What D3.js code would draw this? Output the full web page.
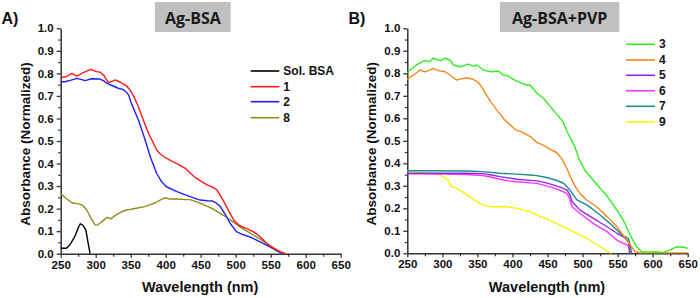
<!DOCTYPE html>
<html><head><meta charset="utf-8">
<script src="https://cdn.jsdelivr.net/npm/d3@7"></script>
<style>body{margin:0;background:#fff}svg{display:block}</style>
</head><body>
<svg id="c" width="700" height="298"></svg>
<script>
// ---- data (wavelength nm, normalized absorbance) ----
const solBSA = [[250,0.024],[258,0.024],[263,0.039],[270,0.075],[275,0.115],[278,0.133],[282,0.125],[286,0.105],[289,0.05],[292,0]];
const s1 = [[250,0.781],[258,0.785],[266,0.80],[273,0.788],[280,0.80],[287,0.81],[293,0.818],[301,0.808],[306,0.806],[312,0.79],[318,0.759],[324,0.766],[328,0.771],[333,0.764],[338,0.756],[344,0.745],[349,0.726],[354,0.70],[359,0.667],[368,0.593],[376,0.53],[381,0.50],[387,0.46],[393,0.44],[399,0.428],[407,0.413],[416,0.40],[428,0.379],[436,0.355],[444,0.334],[459,0.305],[467,0.295],[473,0.283],[482,0.238],[490,0.19],[497,0.15],[506,0.123],[515,0.112],[525,0.098],[535,0.075],[544,0.046],[555,0.022],[563,0.009],[572,0]];
const s2 = [[250,0.763],[256,0.763],[265,0.77],[273,0.778],[280,0.772],[285,0.768],[294,0.776],[306,0.775],[311,0.768],[316,0.756],[325,0.744],[332,0.734],[339,0.729],[344,0.716],[347,0.704],[351,0.667],[356,0.63],[361,0.593],[368,0.53],[372,0.49],[378,0.43],[387,0.357],[394,0.32],[401,0.297],[416,0.275],[435,0.253],[449,0.238],[460,0.235],[466,0.234],[472,0.225],[478,0.209],[485,0.175],[492,0.135],[501,0.098],[510,0.085],[520,0.075],[530,0.06],[539,0.046],[549,0.03],[559,0.012],[567,0]];
const s8 = [[250,0.266],[258,0.245],[266,0.226],[272,0.222],[278,0.22],[283,0.21],[287,0.194],[293,0.16],[299,0.128],[302,0.127],[306,0.135],[311,0.148],[316,0.161],[322,0.155],[328,0.17],[337,0.186],[345,0.195],[351,0.197],[360,0.203],[370,0.209],[378,0.218],[385,0.226],[392,0.238],[399,0.248],[405,0.243],[416,0.243],[428,0.24],[435,0.24],[449,0.224],[458,0.212],[466,0.201],[478,0.179],[485,0.166],[492,0.15],[501,0.13],[512,0.108],[525,0.083],[535,0.065],[544,0.046],[553,0.028],[563,0.009],[570,0]];

const s3 = [[250,0.803],[256,0.82],[263,0.837],[270,0.85],[275,0.856],[282,0.852],[287,0.867],[292,0.862],[297,0.856],[304,0.867],[311,0.859],[316,0.837],[325,0.829],[331,0.834],[337,0.841],[344,0.832],[349,0.837],[354,0.826],[358,0.815],[364,0.81],[370,0.807],[380,0.81],[387,0.792],[394,0.788],[401,0.773],[413,0.756],[420,0.748],[425,0.748],[435,0.711],[444,0.69],[454,0.652],[465,0.612],[472,0.585],[478,0.54],[489,0.474],[495,0.42],[503,0.37],[515,0.326],[525,0.289],[534,0.259],[549,0.192],[558,0.148],[568,0.081],[577,0.029],[584,0.007],[591,0.005],[605,0.007],[615,0.003],[625,0.015],[634,0.029],[644,0.027],[650,0.022]];
const s4 = [[250,0.773],[255,0.785],[261,0.797],[268,0.815],[275,0.806],[281,0.813],[287,0.822],[294,0.812],[304,0.807],[309,0.797],[320,0.77],[327,0.775],[335,0.78],[344,0.773],[351,0.76],[356,0.74],[363,0.703],[370,0.67],[378,0.635],[389,0.592],[397,0.57],[404,0.55],[413,0.54],[425,0.52],[435,0.492],[444,0.481],[454,0.462],[463,0.448],[470,0.422],[478,0.375],[484,0.33],[490,0.295],[496,0.267],[506,0.237],[520,0.207],[535,0.163],[549,0.118],[558,0.081],[568,0.037],[575,0.007],[582,0.002],[650,0.002]];
const s5 = [[250,0.356],[300,0.356],[335,0.356],[358,0.354],[370,0.348],[382,0.341],[394,0.335],[406,0.329],[425,0.324],[435,0.322],[447,0.314],[458,0.304],[468,0.294],[478,0.281],[482,0.26],[485,0.23],[496,0.193],[505,0.175],[515,0.156],[525,0.137],[535,0.118],[549,0.089],[558,0.074],[563,0.06],[566,0.052],[567,0]];
const s6 = [[250,0.353],[300,0.352],[335,0.35],[358,0.346],[370,0.338],[382,0.329],[394,0.322],[406,0.318],[425,0.313],[435,0.311],[447,0.301],[458,0.292],[468,0.28],[478,0.265],[482,0.24],[485,0.207],[496,0.178],[505,0.157],[515,0.133],[525,0.114],[535,0.096],[549,0.059],[558,0.044],[564,0.037],[566,0.03],[568,0]];
const s7 = [[250,0.367],[287,0.367],[335,0.366],[358,0.363],[382,0.356],[406,0.352],[425,0.348],[435,0.345],[447,0.338],[458,0.329],[468,0.318],[473,0.311],[482,0.281],[492,0.237],[506,0.215],[515,0.195],[525,0.17],[539,0.133],[549,0.104],[558,0.077],[565,0.067],[568,0.037],[570,0]];
const s9 = [[250,0.367],[260,0.362],[268,0.358],[287,0.356],[295,0.35],[301,0.341],[308,0.326],[313,0.296],[320,0.29],[325,0.281],[339,0.252],[350,0.228],[354,0.222],[362,0.212],[370,0.207],[392,0.207],[400,0.203],[406,0.2],[425,0.185],[435,0.17],[447,0.155],[458,0.14],[470,0.122],[482,0.104],[494,0.085],[506,0.067],[515,0.048],[525,0.029],[533,0.014],[539,0.003],[541,0]];

const yTicks = [0,0.1,0.2,0.3,0.4,0.5,0.6,0.7,0.8,0.9,1.0];
const xTicks = [250,300,350,400,450,500,550,600,650];

const leftSeries = [
  {name:"Sol. BSA", data:solBSA, color:"#000000"},
  {name:"1", data:s1, color:"#ff1a1a"},
  {name:"2", data:s2, color:"#2020ff"},
  {name:"8", data:s8, color:"#8c8c1c"}
];
const rightSeries = [
  {name:"3", data:s3, color:"#33ee22"},
  {name:"4", data:s4, color:"#f7861c"},
  {name:"5", data:s5, color:"#8a2be2"},
  {name:"6", data:s6, color:"#ff33ff"},
  {name:"7", data:s7, color:"#1f8c8c"},
  {name:"9", data:s9, color:"#f5f500"}
];
// draw order (bottom to top)
const rightDrawOrder = ["9","6","5","7","4","3"];
const leftDrawOrder = ["Sol. BSA","8","2","1"];

const svg = d3.select("#c");
const AX = "Liberation Sans, Arial, sans-serif";

function panel(opt){
  const x = d3.scaleLinear().domain([250,650]).range([opt.x0,opt.x1]);
  const y = d3.scaleLinear().domain([0,1]).range([opt.y0,opt.y1]);
  const g = svg.append("g");
  // minor ticks
  const minorY = d3.range(0.05,1,0.1);
  const minorX = d3.range(275,650,50);
  g.append("g").attr("transform",`translate(${opt.x0},0)`)
    .call(d3.axisLeft(y).tickValues(minorY).tickSize(2.5).tickFormat(""))
    .call(s=>s.select(".domain").remove())
    .call(s=>s.selectAll("line").attr("stroke","#333").attr("stroke-width",1.2));
  g.append("g").attr("transform",`translate(0,${opt.y0})`)
    .call(d3.axisBottom(x).tickValues(minorX).tickSize(3).tickFormat(""))
    .call(s=>s.select(".domain").remove())
    .call(s=>s.selectAll("line").attr("stroke","#333").attr("stroke-width",1.2));
  // major axes
  const ya = g.append("g").attr("transform",`translate(${opt.x0},0)`)
    .call(d3.axisLeft(y).tickValues(yTicks).tickSize(4).tickSizeOuter(0).tickPadding(3).tickFormat(d3.format(".1f")));
  const xa = g.append("g").attr("transform",`translate(0,${opt.y0})`)
    .call(d3.axisBottom(x).tickValues(xTicks).tickSize(4).tickSizeOuter(0).tickPadding(3));
  [ya,xa].forEach(a=>{
    a.select(".domain").attr("stroke","#333").attr("stroke-width",1.5);
    a.selectAll("line").attr("stroke","#333").attr("stroke-width",1.3);
    a.selectAll("text").attr("font-family",AX).attr("font-weight","bold").attr("font-size",11.5).attr("fill","#111");
  });
  // lines
  const line = d3.line().x(d=>x(d[0])).y(d=>y(d[1]));
  const byName = {};
  opt.series.forEach(s=>byName[s.name]=s);
  opt.order.forEach(n=>{
    const s = byName[n];
    g.append("path").datum(s.data).attr("d",line).attr("fill","none")
      .attr("stroke",s.color).attr("stroke-width",1.4).attr("stroke-linejoin","round");
  });
  // legend
  opt.series.forEach((s,i)=>{
    const ly = opt.legY[i];
    g.append("line").attr("x1",opt.legX0).attr("x2",opt.legX1).attr("y1",ly).attr("y2",ly)
      .attr("stroke",s.color).attr("stroke-width",1.6);
    g.append("text").attr("x",opt.legX1+4).attr("y",ly+4).text(s.name)
      .attr("font-family",AX).attr("font-weight","bold").attr("font-size",12).attr("fill","#111");
  });
  // axis titles
  g.append("text").attr("transform",`translate(${opt.ylabX},${(opt.y0+opt.y1)/2 + 3}) rotate(-90)`)
    .attr("text-anchor","middle").text("Absorbance (Normalized)")
    .attr("font-family",AX).attr("font-weight","bold").attr("font-size",13.5).attr("fill","#111");
  g.append("text").attr("x",(opt.x0+opt.x1)/2 - 0.5).attr("y",292)
    .attr("text-anchor","middle").text("Wavelength (nm)")
    .attr("font-family",AX).attr("font-weight","bold").attr("font-size",14.5).attr("fill","#111");
  // title box
  g.append("rect").attr("x",opt.boxX).attr("y",2).attr("width",opt.boxW).attr("height",30).attr("fill","#c0c0c0");
  g.append("text").attr("x",opt.boxX+opt.boxW/2).attr("y",24).attr("text-anchor","middle")
    .text(opt.title).attr("font-family","Open Sans, sans-serif").attr("font-weight","bold").attr("font-size",16).attr("fill","#1a1a1a");
  // panel letter
  g.append("text").attr("x",opt.letX).attr("y",24).text(opt.letter)
    .attr("font-family",AX).attr("font-weight","bold").attr("font-size",16).attr("fill","#111");
}

panel({x0:60.7,x1:340.7,y0:253.7,y1:28.3,series:leftSeries,order:leftDrawOrder,
  legX0:250.7,legX1:279.3,legY:[71,86.7,101.7,117.7],ylabX:30,
  boxX:155,boxW:75.7,title:"Ag-BSA",letter:"A)",letX:1.5});
panel({x0:407.3,x1:687.7,y0:253.3,y1:28.3,series:rightSeries,order:rightDrawOrder,
  legX0:626,legX1:655,legY:[44.3,60,75.3,90.7,106.3,122],ylabX:375.5,
  boxX:500,boxW:119.3,title:"Ag-BSA+PVP",letter:"B)",letX:348.5});
</script>
</body></html>
